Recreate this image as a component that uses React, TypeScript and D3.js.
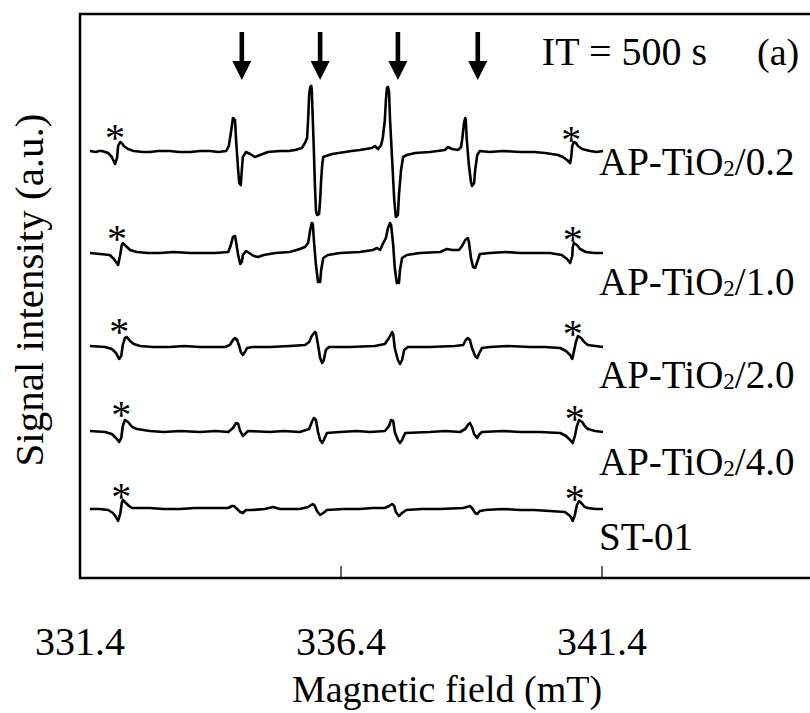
import React from "react";
import * as d3 from "d3";

// Magnetic field (mT) vs signal (a.u., relative to each trace's baseline)
const sampleNames = ["AP-TiO2/0.2", "AP-TiO2/1.0", "AP-TiO2/2.0", "AP-TiO2/4.0", "ST-01"];
const traceOffsets = [426, 325, 231, 146, 69];

const traceAP02: [number, number][] = [
  [331.59, 1], [331.71, 0], [331.76, 1], [331.82, 1], [331.88, 0], [331.94, -1], [332.01, -5], [332.07, -12], [332.11, -6], [332.13, 6],
  [332.17, 10], [332.2, 9], [332.24, 6], [332.32, 3], [332.43, 1], [332.6, 0], [332.74, 0], [332.9, 1], [333.12, 1], [333.3, 0],
  [333.51, 0], [333.7, 1], [333.89, 1], [334.05, 0], [334.2, 1], [334.25, 6], [334.29, 19], [334.33, 34], [334.37, 32], [334.39, 12],
  [334.43, -18], [334.45, -31], [334.48, -33], [334.5, -18], [334.52, -5], [334.58, 0], [334.66, -2], [334.75, -5], [334.85, -3], [335.0, 0],
  [335.23, 1], [335.4, 1], [335.52, 2], [335.65, 4], [335.71, 9], [335.75, 14], [335.77, 32], [335.79, 57], [335.81, 65], [335.83, 66],
  [335.84, 62], [335.86, 32], [335.88, 2], [335.9, -33], [335.92, -58], [335.94, -63], [335.98, -62], [336.0, -48], [336.02, -28], [336.04, -13],
  [336.06, -5], [336.11, -4], [336.23, -2], [336.48, 0], [336.6, 1], [336.76, 2], [336.99, 4], [337.05, 6], [337.11, 3], [337.17, 7],
  [337.2, 14], [337.24, 32], [337.26, 52], [337.28, 64], [337.3, 65], [337.32, 60], [337.34, 32], [337.38, -8], [337.42, -48], [337.45, -65],
  [337.49, -63], [337.51, -43], [337.55, -18], [337.59, -5], [337.66, -3], [337.82, -1], [338.1, 0], [338.25, 1], [338.39, 2], [338.45, 5],
  [338.53, 3], [338.64, 2], [338.7, 5], [338.72, 12], [338.76, 30], [338.78, 34], [338.79, 32], [338.81, 12], [338.85, -13], [338.89, -30],
  [338.91, -34], [338.95, -31], [338.97, -18], [339.01, -3], [339.06, 1], [339.25, 0], [339.5, 1], [339.83, 0], [340.1, 0], [340.31, -1],
  [340.56, -3], [340.65, -5], [340.73, -8], [340.79, -11], [340.81, -5], [340.83, 6], [340.86, 10], [340.9, 9], [340.94, 6], [341.02, 3],
  [341.17, 1], [341.3, 0], [341.42, 1],
];

const traceAP10: [number, number][] = [
  [331.59, 0], [331.78, -1], [331.97, -2], [332.05, -6], [332.13, -12], [332.17, -2], [332.2, 8], [332.22, 10], [332.28, 7], [332.36, 3],
  [332.49, 1], [332.7, 0], [332.93, 0], [333.2, 1], [333.51, 0], [333.75, 0], [333.99, 0], [334.24, 1], [334.29, 8], [334.33, 16],
  [334.37, 17], [334.39, 11], [334.43, -2], [334.47, -11], [334.5, -9], [334.52, -2], [334.58, 2], [334.64, 0], [334.73, -3], [334.81, -4],
  [334.92, -2], [335.14, 0], [335.42, 1], [335.61, 4], [335.71, 6], [335.77, 10], [335.81, 23], [335.84, 30], [335.86, 29], [335.88, 13],
  [335.92, -12], [335.96, -29], [336.0, -29], [336.02, -17], [336.06, -5], [336.15, -2], [336.38, 0], [336.76, 1], [337.01, 3], [337.09, 5],
  [337.15, 3], [337.2, 9], [337.26, 15], [337.3, 25], [337.34, 30], [337.36, 28], [337.4, 8], [337.43, -15], [337.47, -30], [337.51, -30],
  [337.53, -17], [337.57, -5], [337.66, -2], [337.91, 0], [338.3, 1], [338.43, 4], [338.53, 3], [338.66, 3], [338.72, 7], [338.78, 13],
  [338.83, 15], [338.85, 11], [338.89, -5], [338.93, -14], [338.97, -15], [339.01, -9], [339.06, -1], [339.25, 0], [339.55, 1], [339.83, 0],
  [340.1, 0], [340.4, 0], [340.63, -2], [340.73, -6], [340.79, -10], [340.83, -3], [340.84, 6], [340.86, 10], [340.92, 8], [340.98, 4],
  [341.09, 1], [341.25, 0], [341.42, 0],
];

const traceAP20: [number, number][] = [
  [331.59, 1], [331.88, 0], [332.01, -2], [332.09, -6], [332.15, -12], [332.19, -9], [332.22, 2], [332.26, 9], [332.3, 10], [332.36, 6],
  [332.43, 3], [332.55, 1], [332.8, 0], [333.12, 0], [333.4, 1], [333.7, 0], [333.95, 0], [334.18, 0], [334.27, 2], [334.33, 7],
  [334.37, 9], [334.41, 7], [334.45, 1], [334.48, -5], [334.52, -8], [334.56, -5], [334.6, -1], [334.7, 0], [335.04, 0], [335.42, 1],
  [335.71, 2], [335.79, 5], [335.84, 11], [335.9, 15], [335.92, 14], [335.96, 2], [336.0, -11], [336.04, -16], [336.07, -13], [336.11, -3],
  [336.17, 0], [336.57, 0], [337.05, 1], [337.24, 3], [337.32, 9], [337.38, 15], [337.4, 13], [337.43, -1], [337.49, -13], [337.53, -17],
  [337.57, -13], [337.61, -3], [337.68, 0], [338.1, 0], [338.58, 1], [338.74, 2], [338.79, 7], [338.83, 9], [338.87, 7], [338.91, -1],
  [338.97, -9], [339.01, -11], [339.04, -7], [339.1, -1], [339.25, 0], [339.6, 1], [340.02, 0], [340.3, 0], [340.6, -1], [340.71, -4],
  [340.79, -8], [340.83, -12], [340.86, -5], [340.9, 5], [340.94, 11], [341.0, 9], [341.06, 5], [341.13, 2], [341.27, 1], [341.42, 0],
];

const traceAP40: [number, number][] = [
  [331.59, 1], [331.88, 0], [332.01, -2], [332.09, -6], [332.15, -10], [332.19, -6], [332.22, 6], [332.26, 12], [332.32, 10], [332.4, 5],
  [332.49, 3], [332.74, 1], [333.0, 0], [333.32, 1], [333.7, 0], [334.0, 1], [334.24, 0], [334.33, 4], [334.39, 9], [334.43, 8],
  [334.47, 1], [334.52, -4], [334.56, -2], [334.62, 1], [335.04, 0], [335.3, 1], [335.61, 0], [335.79, 3], [335.84, 10], [335.88, 14],
  [335.92, 12], [335.96, 0], [336.0, -8], [336.04, -11], [336.07, -8], [336.13, -1], [336.38, 0], [336.7, 1], [336.96, 0], [337.24, 1],
  [337.32, 6], [337.36, 12], [337.4, 11], [337.43, 0], [337.49, -8], [337.53, -11], [337.57, -8], [337.63, -1], [338.1, 0], [338.4, 1],
  [338.68, 0], [338.78, 3], [338.83, 7], [338.87, 9], [338.91, 5], [338.95, -2], [339.01, -6], [339.04, -3], [339.1, 0], [339.5, 1],
  [339.83, 0], [340.2, 0], [340.6, -1], [340.71, -4], [340.79, -8], [340.84, -11], [340.88, -4], [340.92, 6], [340.96, 12], [341.02, 10],
  [341.07, 6], [341.13, 3], [341.27, 1], [341.42, 0],
];

const traceST01: [number, number][] = [
  [331.59, 0], [331.78, 0], [331.94, -1], [332.03, -4], [332.09, -8], [332.13, -12], [332.17, -5], [332.2, 6], [332.22, 9], [332.28, 6],
  [332.34, 3], [332.4, 1], [332.74, 1], [333.0, 0], [333.32, 0], [333.6, 1], [333.89, 1], [334.24, 1], [334.31, 3], [334.35, 3],
  [334.39, 1], [334.47, -3], [334.52, -4], [334.58, -1], [334.7, -1], [334.94, 0], [335.1, 2], [335.23, 0], [335.61, 0], [335.77, 2],
  [335.83, 4], [335.86, 5], [335.9, 3], [335.94, -2], [336.0, -6], [336.06, -4], [336.13, -1], [336.45, 0], [336.76, 0], [337.0, 1],
  [337.24, 1], [337.32, 3], [337.38, 5], [337.42, 3], [337.45, -3], [337.51, -7], [337.57, -4], [337.65, -1], [337.95, 0], [338.3, 0],
  [338.74, 1], [338.81, 2], [338.87, 3], [338.91, 1], [338.97, -4], [339.01, -5], [339.06, -2], [339.16, -1], [339.5, 0], [339.83, -1],
  [340.1, -1], [340.4, -2], [340.69, -3], [340.79, -7], [340.84, -12], [340.88, -6], [340.92, 4], [340.96, 8], [341.02, 5], [341.07, 2],
  [341.13, 1], [341.27, 0], [341.42, 0],
];

const traces = [traceAP02, traceAP10, traceAP20, traceAP40, traceST01];

// Mn2+ marker positions (mT) and marker height above baseline (a.u.)
const starLeftField = [332.07, 332.11, 332.15, 332.19, 332.19];
const starRightField = [340.81, 340.84, 340.84, 340.88, 340.88];
const starLeftHeight = [21, 21, 22, 24, 19];
const starRightHeight = [19, 20, 20, 20, 17];

// DMPO-OH quartet positions (mT) marked by arrows
const arrowFields = [334.5, 336.0, 337.49, 339.02];

const tickValues = [331.4, 336.4, 341.4];
const tickLabels = ["331.4", "336.4", "341.4"];

const W = 810;
const H = 713;
const FONT = "'Liberation Serif', 'Times New Roman', Times, serif";

export default function App() {
  const left = 80;
  const top = 14;
  const bottom = 578;
  const x = d3.scaleLinear().domain([331.4, 341.4]).range([80, 602]);
  const y = d3.scaleLinear().domain([0, 564]).range([bottom, top]);

  const line = (offset: number) =>
    d3
      .line<[number, number]>()
      .x((d) => x(d[0]))
      .y((d) => y(offset + d[1]));

  const labelBaselines = [175, 295, 388, 475, 550];

  const renderLabel = (name: string, i: number) => {
    const yb = labelBaselines[i];
    if (name.startsWith("AP-TiO2")) {
      const rest = name.slice("AP-TiO2".length);
      return (
        <text key={name} x={599} y={yb} fontFamily={FONT} fontSize={39} fill="#000">
          AP-TiO
          <tspan fontSize={23} dy={1}>2</tspan>
          <tspan dy={-1}>{rest}</tspan>
        </text>
      );
    }
    return (
      <text key={name} x={599} y={yb} fontFamily={FONT} fontSize={39} fill="#000">
        {name}
      </text>
    );
  };

  return (
    <svg
      width={W}
      height={H}
      style={{ position: "fixed", left: 0, top: 0, background: "#fff" }}
    >
      <rect x={0} y={0} width={W} height={H} fill="#fff" />
      {/* frame */}
      <path
        d={`M${W + 2},${top} L${left},${top} L${left},${bottom} L${W + 2},${bottom}`}
        fill="none"
        stroke="#000"
        strokeWidth={2.5}
      />
      {tickValues.slice(1).map((t) => (
        <line key={t} x1={x(t)} x2={x(t)} y1={bottom} y2={bottom - 12} stroke="#000" strokeWidth={1.2} />
      ))}
      {tickValues.map((t, i) => (
        <text
          key={"tl" + t}
          x={x(t)}
          y={655}
          textAnchor="middle"
          fontFamily={FONT}
          fontSize={40}
          fill="#000"
        >
          {tickLabels[i]}
        </text>
      ))}
      <text x={447} y={702} textAnchor="middle" fontFamily={FONT} fontSize={38} fill="#000">
        Magnetic field (mT)
      </text>
      <text
        transform={`translate(43,290) rotate(-90)`}
        textAnchor="middle"
        fontFamily={FONT}
        fontSize={41}
        fill="#000"
      >
        Signal intensity (a.u.)
      </text>

      <text x={707} y={65} textAnchor="end" fontFamily={FONT} fontSize={40} fill="#000">
        IT = 500 s
      </text>
      <text x={757} y={65} fontFamily={FONT} fontSize={38} fill="#000">
        (a)
      </text>

      {arrowFields.map((f) => {
        const cx = x(f);
        return (
          <g key={"ar" + f}>
            <rect x={cx - 2.3} y={32} width={4.6} height={31} fill="#000" />
            <path d={`M${cx - 9.5},61 L${cx + 9.5},61 L${cx},80 Z`} fill="#000" />
          </g>
        );
      })}

      {traces.map((tr, i) => (
        <path
          key={"tr" + i}
          d={line(traceOffsets[i])(tr) || ""}
          fill="none"
          stroke="#000"
          strokeWidth={2.6}
          strokeLinejoin="round"
        />
      ))}

      {traces.map((_, i) => (
        <g key={"st" + i}>
          <text
            x={x(starLeftField[i])}
            y={y(traceOffsets[i] + starLeftHeight[i]) + 20}
            textAnchor="middle"
            fontFamily={FONT}
            fontSize={40}
            fill="#000"
          >
            *
          </text>
          <text
            x={x(starRightField[i])}
            y={y(traceOffsets[i] + starRightHeight[i]) + 20}
            textAnchor="middle"
            fontFamily={FONT}
            fontSize={40}
            fill="#000"
          >
            *
          </text>
        </g>
      ))}

      {sampleNames.map((n, i) => renderLabel(n, i))}
    </svg>
  );
}
